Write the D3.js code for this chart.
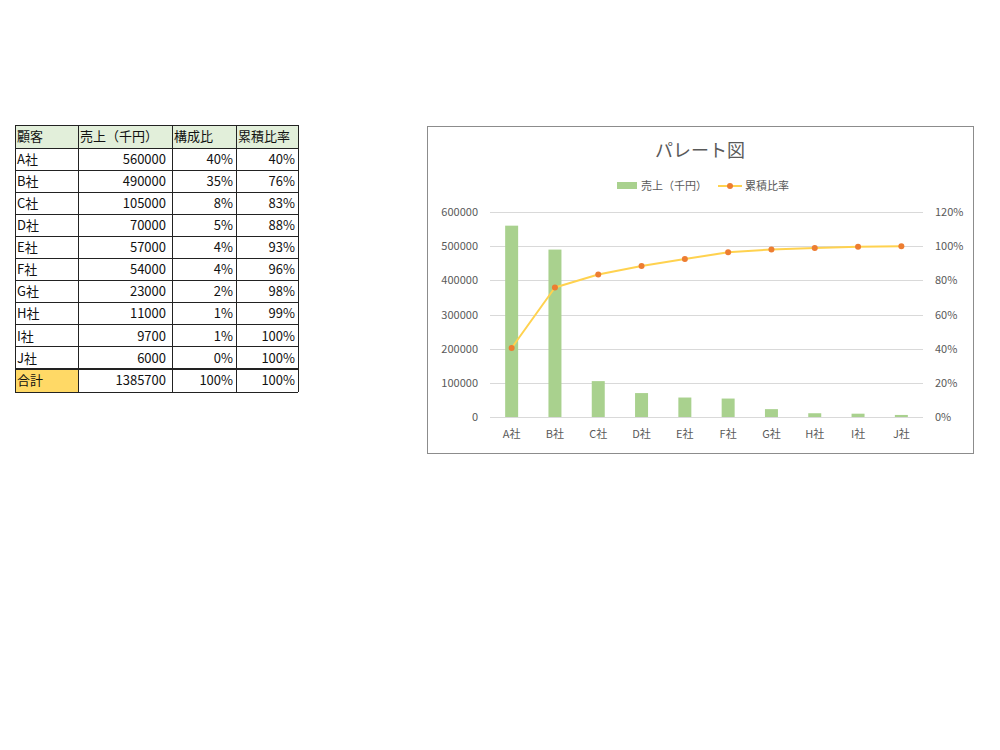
<!DOCTYPE html>
<html><head><meta charset="utf-8">
<script src="https://cdn.jsdelivr.net/npm/d3@7"></script>
<style>body{margin:0;background:#fff;} text{font-family:"Noto Sans CJK JP","Noto Sans",sans-serif;}</style>
</head><body>
<svg id="c" width="1000" height="750"></svg>
<script>
const customers = ["A社","B社","C社","D社","E社","F社","G社","H社","I社","J社"];
const sales = [560000,490000,105000,70000,57000,54000,23000,11000,9700,6000];
const shares = ["40%","35%","8%","5%","4%","4%","2%","1%","1%","0%"];
const cumLabels = ["40%","76%","83%","88%","93%","96%","98%","99%","100%","100%"];
const cumRatio = [0.404,0.758,0.834,0.884,0.925,0.964,0.981,0.989,0.996,1.0];
const headers = ["顧客","売上（千円）","構成比","累積比率"];
const totalRow = ["合計","1385700","100%","100%"];
const leftTicks = [0,100000,200000,300000,400000,500000,600000];
const rightTicks = [0,0.2,0.4,0.6,0.8,1.0,1.2];
const title = "パレート図";

const svg = d3.select("#c");

// ---------- Table ----------
const colX = [15,78,172,236,298];
const rowY = [125,148];
for(let i=1;i<=10;i++) rowY.push(148+22.1*i);
rowY.push(392);
const tg = svg.append("g");
tg.append("rect").attr("x",colX[0]).attr("y",rowY[0]).attr("width",colX[4]-colX[0]).attr("height",rowY[1]-rowY[0]).attr("fill","#E2EFDA");
tg.append("rect").attr("x",colX[0]).attr("y",rowY[11]).attr("width",colX[1]-colX[0]).attr("height",rowY[12]-rowY[11]).attr("fill","#FFD966");
const rows = [headers].concat(customers.map((c,i)=>[c,String(sales[i]),shares[i],cumLabels[i]])).concat([totalRow]);
const rpad = [0,6,3,3];
rows.forEach((r,ri)=>{
  const yc=(rowY[ri]+rowY[ri+1])/2;
  r.forEach((t,ci)=>{
    const left = ri===0 || ci===0;
    tg.append("text").attr("x", left? colX[ci]+2 : colX[ci+1]-rpad[ci]).attr("y",yc).attr("dy","0.36em")
      .attr("text-anchor", left?"start":"end").attr("font-size",13).attr("fill","#111").text(t);
  });
});
rowY.forEach((y,i)=>{
  tg.append("line").attr("x1",colX[0]).attr("x2",colX[4]).attr("y1",y).attr("y2",y)
    .attr("stroke","#222").attr("stroke-width", i===11?2:1).attr("shape-rendering","crispEdges");
});
colX.forEach(x=>{
  tg.append("line").attr("x1",x).attr("x2",x).attr("y1",rowY[0]).attr("y2",rowY[12]).attr("stroke","#222").attr("shape-rendering","crispEdges");
});

// ---------- Chart ----------
const cg = svg.append("g");
cg.append("rect").attr("x",427.5).attr("y",126.5).attr("width",546).attr("height",327).attr("fill","#fff").attr("stroke","#8c8c8c").attr("stroke-width",1);
cg.append("text").attr("x",700).attr("y",151).attr("dy","0.35em").attr("text-anchor","middle").attr("font-size",18).attr("fill","#595959").text(title);

const x = d3.scaleBand().domain(customers).range([490,923]).paddingInner(0.7).paddingOuter(0.35);
const y = d3.scaleLinear().domain([0,600000]).range([417,212]);
const y2 = d3.scaleLinear().domain([0,1.2]).range([417,212]);

cg.append("g").selectAll("line").data(leftTicks).join("line")
  .attr("x1",490).attr("x2",923).attr("y1",d=>Math.round(y(d))+0.5).attr("y2",d=>Math.round(y(d))+0.5)
  .attr("stroke","#D9D9D9").attr("stroke-width",1);

const ff = "\"Noto Sans CJK JP\",sans-serif";
const la = cg.append("g").attr("transform","translate(478,0)")
  .call(d3.axisLeft(y).tickValues(leftTicks).tickSize(0).tickPadding(0).tickFormat(d3.format("d")));
la.select(".domain").remove();
la.selectAll("text").attr("font-size",11).attr("fill","#595959").attr("font-family",ff);
const ra = cg.append("g").attr("transform","translate(935,0)")
  .call(d3.axisRight(y2).tickValues(rightTicks).tickSize(0).tickPadding(0).tickFormat(d3.format(".0%")));
ra.select(".domain").remove();
ra.selectAll("text").attr("font-size",11).attr("fill","#595959").attr("font-family",ff);
const ba = cg.append("g").attr("transform","translate(0,417)")
  .call(d3.axisBottom(x).tickSize(0).tickPadding(13));
ba.select(".domain").remove();
ba.selectAll("text").attr("font-size",11).attr("fill","#595959").attr("font-family",ff);

cg.append("g").selectAll("rect").data(sales).join("rect")
  .attr("x",(d,i)=>x(customers[i])).attr("width",x.bandwidth())
  .attr("y",d=>y(d)).attr("height",d=>y(0)-y(d)).attr("fill","#A9D18E");

const line = d3.line().x((d,i)=>x(customers[i])+x.bandwidth()/2).y(d=>y2(d));
cg.append("path").datum(cumRatio).attr("d",line).attr("fill","none").attr("stroke","#FFD24F").attr("stroke-width",2).attr("stroke-linejoin","round");
cg.append("g").selectAll("circle").data(cumRatio).join("circle")
  .attr("cx",(d,i)=>x(customers[i])+x.bandwidth()/2).attr("cy",d=>y2(d)).attr("r",3).attr("fill","#ED7D31");

const lg = cg.append("g");
lg.append("rect").attr("x",617).attr("y",182).attr("width",20).attr("height",7).attr("fill","#A9D18E");
lg.append("text").attr("x",641).attr("y",186).attr("dy","0.35em").attr("font-size",11).attr("fill","#595959").text("売上（千円）");
lg.append("line").attr("x1",718).attr("x2",742).attr("y1",186).attr("y2",186).attr("stroke","#FFD24F").attr("stroke-width",2);
lg.append("circle").attr("cx",730).attr("cy",186).attr("r",3).attr("fill","#ED7D31");
lg.append("text").attr("x",745).attr("y",186).attr("dy","0.35em").attr("font-size",11).attr("fill","#595959").text("累積比率");
</script>
</body></html>
